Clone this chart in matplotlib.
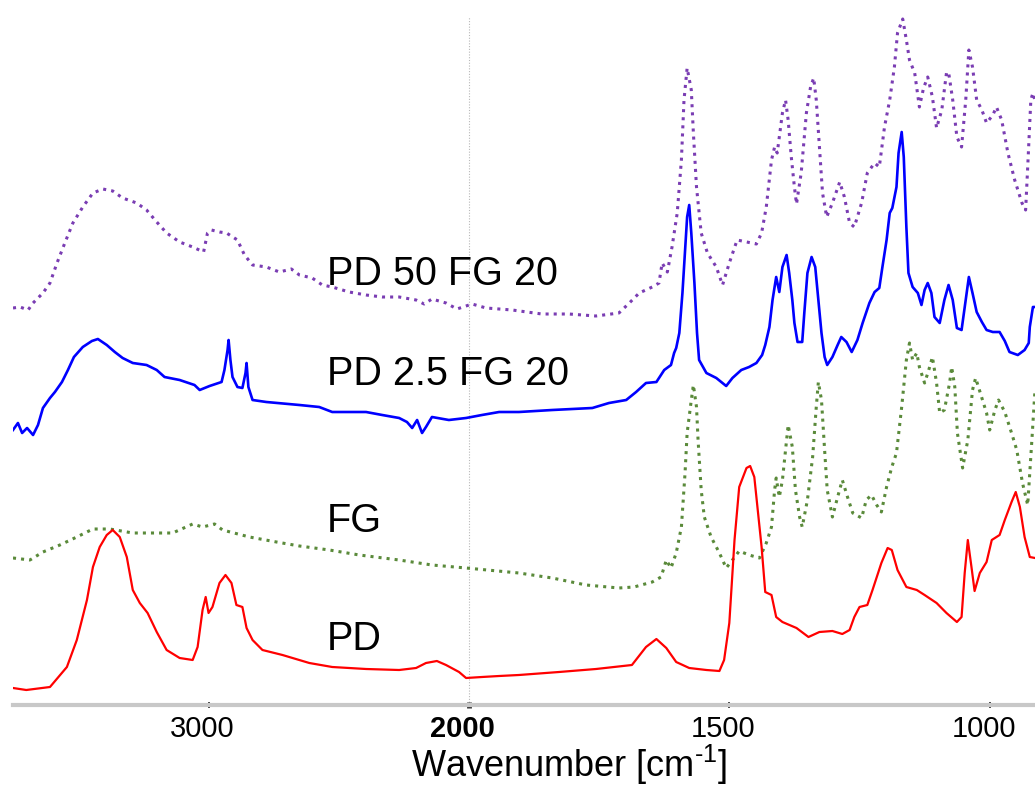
import numpy as np
import matplotlib.pyplot as plt
import matplotlib.transforms as mtransforms
from matplotlib.ticker import FixedLocator

plt.rcParams['font.family'] = ['Liberation Sans', 'DejaVu Sans']
plt.rcParams['mathtext.fontset'] = 'custom'
plt.rcParams['mathtext.rm'] = 'Liberation Sans'
plt.rcParams['mathtext.it'] = 'Liberation Sans:italic'

# spectra: wavenumber [cm-1] and stacked intensity (a.u., offsets included)
pd_wn = [3751, 3700, 3609, 3544, 3506, 3467, 3444, 3418, 3391, 3368, 3341, 3314, 3291, 3264, 3234,
         3199, 3161, 3111, 3061, 3042, 3023, 3011, 3000, 2985, 2958, 2935, 2912, 2893, 2870, 2854,
         2831, 2793, 2716, 2613, 2525, 2395, 2268, 2203, 2165, 2123, 2088, 2038, 2011, 1975, 1942,
         1904, 1827, 1756, 1687, 1660, 1640, 1621, 1602, 1577, 1544, 1519, 1510, 1500, 1490, 1481,
         1467, 1460, 1452, 1446, 1438, 1431, 1419, 1410, 1398, 1371, 1348, 1327, 1302, 1283, 1269,
         1260, 1250, 1235, 1225, 1208, 1196, 1188, 1177, 1160, 1140, 1125, 1102, 1083, 1063, 1054,
         1048, 1042, 1035, 1029, 1019, 1006, 996, 981, 971, 958, 950, 942, 933, 923, 913]
pd_int = [17, 15, 18, 38, 65, 105, 138, 158, 170, 175, 168, 148, 115, 102, 92,
          73, 55, 47, 45, 58, 95, 108, 92, 98, 122, 130, 122, 100, 98, 77,
          65, 55, 50, 42, 38, 36, 35, 37, 42, 44, 40, 33, 27, 28, 29,
          30, 33, 36, 40, 58, 66, 57, 43, 37, 35, 34, 45, 82, 165, 218,
          237, 239, 228, 198, 158, 113, 110, 88, 83, 77, 68, 73, 74, 71, 75,
          88, 98, 100, 115, 142, 157, 155, 135, 118, 115, 110, 102, 92, 83, 88,
          132, 165, 138, 114, 132, 143, 165, 170, 185, 203, 213, 198, 168, 148, 147]

fg_wn = [3751, 3686, 3636, 3571, 3506, 3444, 3379, 3291, 3215, 3138, 3061, 3023, 2977, 2946, 2843,
         2739, 2651, 2536, 2421, 2268, 2142, 2011, 1904, 1840, 1775, 1712, 1683, 1648, 1631, 1621,
         1612, 1602, 1592, 1585, 1581, 1573, 1569, 1563, 1560, 1554, 1548, 1535, 1519, 1506, 1494,
         1481, 1462, 1442, 1429, 1419, 1413, 1410, 1404, 1398, 1390, 1387, 1379, 1373, 1365, 1360,
         1350, 1340, 1333, 1329, 1323, 1317, 1312, 1302, 1292, 1283, 1273, 1263, 1246, 1237, 1227,
         1217, 1208, 1198, 1188, 1179, 1169, 1160, 1154, 1148, 1140, 1135, 1125, 1117, 1110, 1102,
         1096, 1087, 1077, 1073, 1067, 1062, 1052, 1042, 1033, 1027, 1015, 1006, 1000, 990, 983,
         971, 958, 948, 937, 927, 919, 913]
fg_int = [147, 145, 153, 160, 168, 176, 176, 172, 172, 172, 181, 178, 181, 175, 168,
          163, 159, 155, 150, 145, 140, 137, 132, 127, 120, 117, 118, 123, 128, 145,
          137, 152, 178, 232, 272, 305, 320, 298, 265, 215, 188, 168, 152, 137, 145,
          154, 150, 147, 162, 178, 215, 227, 208, 225, 265, 280, 258, 215, 188, 178,
          205, 248, 298, 323, 305, 255, 215, 188, 208, 225, 208, 192, 187, 205, 210,
          200, 193, 218, 238, 252, 298, 345, 362, 345, 352, 338, 322, 335, 348, 322,
          292, 295, 322, 338, 318, 272, 237, 265, 315, 327, 307, 292, 275, 295, 305,
          293, 272, 255, 222, 200, 265, 315]

pd25_wn = [3751, 3732, 3716, 3697, 3674, 3655, 3636, 3609, 3590, 3563, 3540, 3517, 3483, 3448, 3425,
           3391, 3360, 3330, 3291, 3238, 3199, 3169, 3111, 3054, 3034, 2996, 2950, 2939, 2927, 2923,
           2916, 2908, 2889, 2870, 2858, 2854, 2847, 2831, 2778, 2651, 2575, 2525, 2395, 2333, 2268,
           2238, 2218, 2199, 2180, 2165, 2142, 2077, 2011, 1975, 1942,
           1904, 1840, 1763, 1731, 1698, 1679, 1660, 1640, 1625, 1612, 1606, 1602, 1596, 1590, 1585,
           1581, 1577, 1573, 1567, 1562, 1558, 1544, 1525, 1506, 1494, 1477, 1462, 1448, 1437, 1431,
           1423, 1417, 1410, 1404, 1398, 1390, 1385, 1379, 1375, 1369, 1360, 1356, 1350, 1342, 1335,
           1329, 1323, 1317, 1312, 1302, 1292, 1285, 1275, 1265, 1254, 1244, 1231, 1221, 1212, 1206,
           1198, 1192, 1187, 1179, 1175, 1169, 1165, 1160, 1156, 1148, 1138, 1131, 1125, 1119, 1112,
           1106, 1096, 1087, 1079, 1071, 1063, 1054, 1046, 1040, 1033, 1025, 1015, 1006, 994, 981,
           971, 962, 946, 933, 925, 923, 917, 913]
pd25_int = [275, 282, 272, 277, 270, 280, 297, 307, 313, 323, 335, 348, 358, 364, 366,
            360, 353, 347, 342, 340, 335, 328, 325, 320, 315, 319, 323, 335, 355, 365,
            345, 328, 318, 317, 332, 342, 318, 305, 303, 300, 298, 293, 293, 290, 287,
            283, 277, 285, 272, 278, 288, 285, 287, 290, 293,
            293, 295, 297, 302, 305, 313, 322, 323, 335, 340, 352, 357, 372, 412, 455,
            488, 500, 472, 422, 372, 345, 332, 327, 319, 327, 335, 338, 342, 350, 360,
            378, 405, 428, 413, 438, 450, 432, 405, 382, 363, 363, 392, 432, 448, 438,
            405, 372, 348, 340, 348, 360, 368, 363, 353, 365, 382, 402, 413, 417, 438,
            465, 492, 497, 518, 552, 573, 548, 478, 432, 418, 412, 400, 415, 422, 412,
            388, 382, 405, 420, 405, 377, 375, 405, 428, 412, 393, 383, 375, 373, 373,
            364, 353, 350, 355, 362, 378, 398, 398]

pd50_wn = [3751, 3724, 3693, 3674, 3636, 3609, 3582, 3552, 3521, 3483, 3444, 3406, 3368, 3330, 3276,
           3238, 3199, 3161, 3111, 3061, 3019, 3004, 2989, 2958, 2931, 2889, 2862, 2831, 2778, 2728,
           2682, 2651, 2602, 2563, 2525, 2460, 2395, 2333, 2268, 2203, 2172, 2142, 2088, 2046, 1994,
           1967, 1917, 1860, 1808, 1756, 1712, 1692, 1673, 1648, 1635, 1629, 1619, 1610, 1600, 1592,
           1587, 1581, 1573, 1569, 1563, 1554, 1542, 1525, 1513, 1500, 1485, 1467, 1448, 1438, 1429,
           1419, 1413, 1408, 1398, 1392, 1387, 1381, 1375, 1371, 1362, 1352, 1344, 1338, 1333, 1327,
           1321, 1313, 1302, 1288, 1279, 1269, 1260, 1246, 1235, 1221, 1212, 1202, 1192, 1183, 1177,
           1167, 1160, 1154, 1144, 1135, 1127, 1119, 1110, 1102, 1092, 1083, 1079, 1071, 1063, 1054,
           1046, 1040, 1033, 1025, 1015, 1006, 994, 987, 977, 965, 952, 938, 931, 927, 921,
           917, 913]
pd50_int = [397, 398, 395, 402, 412, 422, 442, 462, 482, 498, 512, 516, 514, 507, 502,
            495, 483, 472, 463, 458, 453, 472, 475, 473, 472, 465, 450, 440, 438, 433,
            436, 430, 427, 420, 418, 413, 410, 408, 408, 405, 401, 406, 402, 396, 401,
            397, 395, 391, 391, 389, 392, 402, 412, 418, 422, 442, 433, 458, 492, 545,
            605, 637, 615, 572, 518, 472, 452, 438, 420, 442, 465, 463, 461, 472, 498,
            545, 558, 552, 592, 605, 585, 548, 518, 501, 532, 592, 618, 627, 605, 558,
            512, 488, 502, 523, 508, 482, 478, 502, 532, 542, 538, 578, 605, 638, 672,
            686, 665, 645, 632, 598, 617, 628, 608, 577, 595, 632, 633, 605, 568, 558,
            605, 655, 638, 605, 595, 582, 590, 598, 585, 552, 525, 502, 495, 538, 605,
            612, 605]

major_ticks = [3000, 2000, 1500, 1000]
minor_ticks = [3600, 3400, 3200, 2800, 2600, 2400, 2200,
               1900, 1800, 1700, 1600, 1400, 1300, 1200, 1100]


# FTIR style axis: scale doubles below 2000 cm-1
def fwd(w):
    w = np.asarray(w, dtype=float)
    return np.where(w >= 2000, w - 2000, 2 * (w - 2000))


def inv(u):
    u = np.asarray(u, dtype=float)
    return np.where(u >= 0, u + 2000, u / 2 + 2000)


fig = plt.figure(figsize=(10.35, 7.9), dpi=100)
ax = fig.add_axes([13 / 1035, 1 - 705 / 790, 1 - 13 / 1035, 705 / 790])
ax.set_xscale('function', functions=(fwd, inv))

ax.axvline(2000, ymin=0, ymax=(705 - 17) / 705, color='#b8b8b8', lw=0.8,
           ls=(0, (1, 1.5)), zorder=0)

ax.plot(pd50_wn, pd50_int, color='#7a3db3', lw=2.2, ls=':')
ax.plot(pd25_wn, pd25_int, color='#0000ff', lw=1.9)
ax.plot(fg_wn, fg_int, color='#5a8a3a', lw=2.2, ls=':')
ax.plot(pd_wn, pd_int, color='#ff0000', lw=1.6)

ax.set_xlim(3751, 913)
ax.set_ylim(0, 705)

for s in ['top', 'left', 'right']:
    ax.spines[s].set_visible(False)
ax.spines['bottom'].set_color('#c8c8c8')
ax.spines['bottom'].set_linewidth(3)
ax.set_yticks([])

ax.xaxis.set_major_locator(FixedLocator(major_ticks))
ax.xaxis.set_minor_locator(FixedLocator(minor_ticks))
ax.set_xticks(major_ticks, labels=[str(t) for t in major_ticks])
ax.tick_params(axis='x', which='major', direction='inout', length=4, width=1.3,
               color='#333333', labelsize=21, pad=5)
ax.tick_params(axis='x', which='minor', direction='inout', length=2, width=1,
               color='#555555')
shift = mtransforms.ScaledTranslation(-0.06, 0, fig.dpi_scale_trans)
for lbl in ax.get_xticklabels():
    lbl.set_transform(lbl.get_transform() + shift)
    if lbl.get_text() == '2000':
        lbl.set_fontweight('bold')
for t in ax.xaxis.get_major_ticks():
    if t.get_loc() == 2000:
        t.tick1line.set_markeredgewidth(3.5)
        t.tick1line.set_color('black')

ax.text(2545, 420, 'PD 50 FG 20', fontsize=28.5, va='baseline')
ax.text(2545, 320, 'PD 2.5 FG 20', fontsize=28.5, va='baseline')
ax.text(2545, 173, 'FG', fontsize=28.5, va='baseline')
ax.text(2545, 55, 'PD', fontsize=28.5, va='baseline')

fig.text(569 / 1035, 1 - 777 / 790, 'Wavenumber [cm$^{\\mathrm{\u20101}}$]', ha='center',
         va='baseline', fontsize=26)

fig.savefig('out.png', dpi=100)
